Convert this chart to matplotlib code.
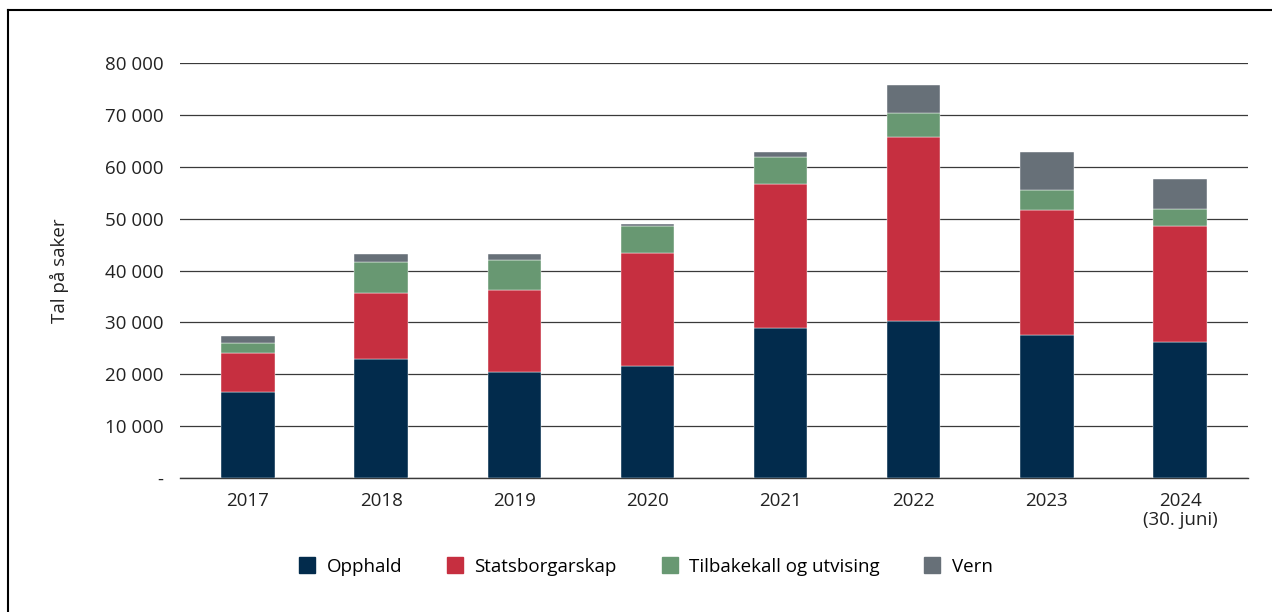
import matplotlib
matplotlib.use("Agg")
import matplotlib.pyplot as plt
from matplotlib.lines import Line2D
import numpy as np

years = ["2017", "2018", "2019", "2020", "2021", "2022", "2023", "2024\n(30. juni)"]
opphald = [16600, 23000, 20400, 21600, 28900, 30300, 27600, 26200]
statsborgarskap = [7500, 12700, 15900, 21800, 27800, 35500, 24000, 22400]
tilbakekall = [1900, 6000, 5800, 5200, 5200, 4500, 3900, 3200]
vern = [1300, 1500, 1000, 400, 1000, 5500, 7400, 5800]
series_names = ["Opphald", "Statsborgarskap", "Tilbakekall og utvising", "Vern"]
colors = ["#022B4C", "#C62F40", "#689872", "#677078"]
yticks = [0, 10000, 20000, 30000, 40000, 50000, 60000, 70000, 80000]

plt.rcParams['font.family'] = ['Open Sans', 'DejaVu Sans']
FS = 13.5

fig = plt.figure(figsize=(12.72, 6.12), dpi=100)
ax = fig.add_axes([180/1272, 1-478/612, (1248-180)/1272, (478-63)/612])

x = np.arange(len(years))
bottom = np.zeros(len(years))
for vals, c, name in zip([opphald, statsborgarskap, tilbakekall, vern], colors, series_names):
    ax.bar(x, vals, bottom=bottom, width=0.4, color=c, label=name, zorder=3,
           edgecolor="#ffffff", linewidth=0.3)
    bottom += np.array(vals)

ax.set_xlim(-0.51, 7.51)
ax.set_ylim(0, 80000)
ax.set_yticks(yticks)
ax.set_yticklabels(["-" if v == 0 else f"{v:,}".replace(",", " ") for v in yticks])
ax.set_xticks(x)
ax.set_xticklabels(years, linespacing=1.1)
ax.grid(axis="y", color="#3a3a3a", linewidth=0.9, zorder=0)
for s in ["top", "right", "left"]:
    ax.spines[s].set_visible(False)
ax.spines["bottom"].set_color("#3a3a3a")
ax.spines["bottom"].set_linewidth(1.0)
ax.tick_params(axis="both", length=0, labelsize=FS, colors="#222222")
ax.tick_params(axis="y", pad=12)
ax.tick_params(axis="x", pad=10)
ax.set_ylabel("Tal på saker", fontsize=FS, color="#222222", labelpad=26)

handles = [Line2D([0], [0], marker="s", linestyle="none", markersize=11.5,
                  markerfacecolor=c, markeredgecolor=c) for c in colors]
fig.legend(handles, series_names, loc="center", bbox_to_anchor=(646/1272, 1-567/612),
           ncol=4, frameon=False, fontsize=FS, columnspacing=2.4,
           handletextpad=0.6, handlelength=0.85)

fig.add_artist(Line2D([8/1272, 8/1272], [0, 1-10/612], color="black", linewidth=1.5,
                      transform=fig.transFigure))
fig.add_artist(Line2D([8/1272, 1], [1-10/612, 1-10/612], color="black", linewidth=1.5,
                      transform=fig.transFigure))

fig.savefig("out.png", dpi=100)
